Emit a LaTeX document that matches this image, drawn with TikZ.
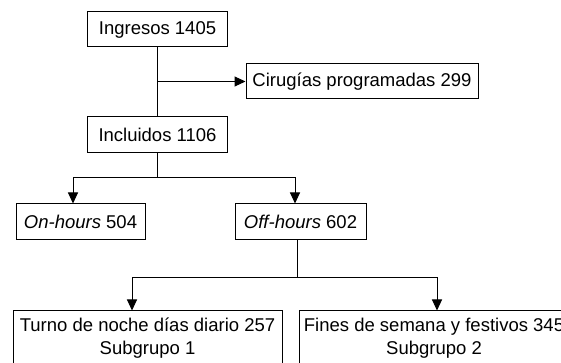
\documentclass[tikz,border=0pt]{standalone}
\usepackage{fontspec}
\setmainfont{Liberation Sans}
\usetikzlibrary{arrows.meta,calc}
\begin{document}
\begin{tikzpicture}[x=1pt,y=1pt,
  box/.style={draw, line width=1pt, inner sep=0pt, align=center,
    font=\fontsize{18.5}{23}\selectfont},
  link/.style={line width=1pt},
  arr/.style={link, -{Triangle[length=11pt,width=10pt]}}]
\clip (0,0) rectangle (561,363);
\node[box, minimum width=140pt, minimum height=35pt] (ing) at (157.5,333.5) {Ingresos 1405};
\node[box, minimum width=232pt, minimum height=35pt] (cir) at (362,281.5) {Cirugías programadas 299};
\node[box, minimum width=140pt, minimum height=36pt] (inc) at (157.5,228) {Incluidos 1106};
\node[box, minimum width=129pt, minimum height=36pt] (on) at (80.5,141) {\textit{On-hours} 504};
\node[box, minimum width=131pt, minimum height=36pt] (off) at (300.5,141) {\textit{Off-hours} 602};
\node[box, minimum width=269pt, minimum height=55pt] (bl) at (147.5,24.5) {Turno de noche días diario 257\\Subgrupo 1};
\node[box, minimum width=270pt, minimum height=55pt] (br) at (434,24.5) {Fines de semana y festivos 345\\Subgrupo 2};
% connectors
\draw[link] (ing.south) -- (inc.north);
\draw[arr] (ing.south |- cir.west) -- (cir.west);
\coordinate (s1) at ($(inc.south)+(0,-24)$);
\draw[link] (inc.south) -- (s1);
\draw[arr] (s1) -| ([xshift=-7.5pt]on.north);
\draw[arr] (s1) -| ([xshift=-5.5pt]off.north);
\coordinate (s2) at ($(off.south)+(-3.5,-37)$);
\draw[link] ([xshift=-3.5pt]off.south) -- (s2);
\draw[arr] (s2) -| ([xshift=-15.5pt]bl.north);
\draw[arr] (s2) -| ([xshift=3pt]br.north);
\end{tikzpicture}
\end{document}
